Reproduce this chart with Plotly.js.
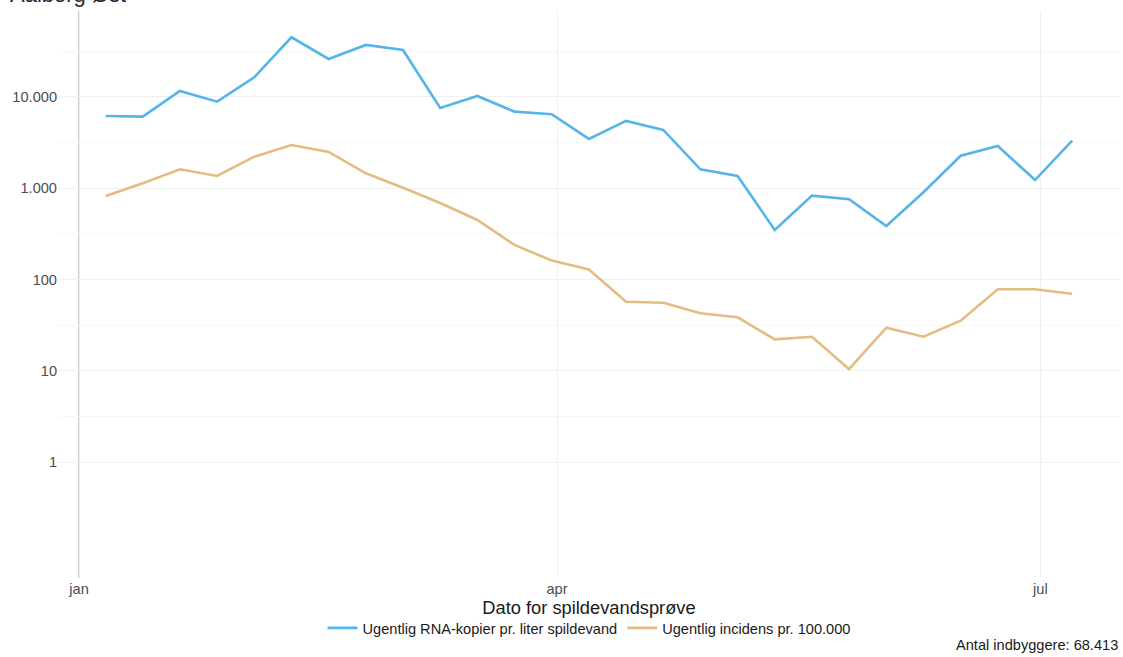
<!DOCTYPE html>
<html>
<head>
<meta charset="utf-8">
<script src="https://cdn.plot.ly/plotly-3.0.1.min.js"></script>
<style>html,body{margin:0;padding:0;background:#fff;}#chart{width:1123px;height:657px;}</style>
</head>
<body>
<div id="chart"></div>
<script>
// ---- data ----
const dates = [
  '2022-01-06','2022-01-13','2022-01-20','2022-01-27','2022-02-03','2022-02-10','2022-02-17',
  '2022-02-24','2022-03-03','2022-03-10','2022-03-17','2022-03-24','2022-03-31','2022-04-07',
  '2022-04-14','2022-04-21','2022-04-28','2022-05-05','2022-05-12','2022-05-19','2022-05-26',
  '2022-06-02','2022-06-09','2022-06-16','2022-06-23','2022-06-30','2022-07-07'
];
const rnaCopies = [
  6190, 6090, 11640, 8880, 16440, 45100, 26070, 37150, 32730, 7580, 10260, 6900, 6460, 3470,
  5460, 4350, 1610, 1360, 349, 829, 757, 386, 903, 2270, 2900, 1230, 3320
];
const incidence = [
  822, 1133, 1614, 1362, 2218, 2978, 2496, 1459, 1014, 689, 449, 239, 161, 129,
  57.1, 55.7, 42.6, 38.5, 22.1, 23.6, 10.4, 29.6, 23.6, 35.4, 78.1, 78.1, 69.9
];
const seriesNames = ['Ugentlig RNA-kopier pr. liter spildevand', 'Ugentlig incidens pr. 100.000'];
const xTickVals = ['2022-01-01', '2022-04-01', '2022-07-01'];
const xTickText = ['jan', 'apr', 'jul'];
const yTickVals = [1, 10, 100, 1000, 10000];
const yTickText = ['1', '10', '100', '1.000', '10.000'];
const chartTitle = 'Aalborg Øst';
const xTitle = 'Dato for spildevandsprøve';
const popNote = 'Antal indbyggere: 68.413';

// ---- styles ----
const FONT = 'Liberation Sans, Arial, Helvetica, sans-serif';
const BLUE = '#56B4E9';
const TAN = '#E3BC82';
const GRID = '#F0F0F0';

const traces = [
  {x: dates, y: rnaCopies, name: seriesNames[0], type: 'scatter', mode: 'lines',
   line: {color: BLUE, width: 2.6}},
  {x: dates, y: incidence, name: seriesNames[1], type: 'scatter', mode: 'lines',
   line: {color: TAN, width: 2.6}}
];

const minorVals = [0.5, 1.5, 2.5, 3.5, 4.5].map(e => Math.pow(10, e));

const layout = {
  width: 1123, height: 657,
  margin: {l: 58, r: 3, t: 11, b: 79, pad: 0},
  paper_bgcolor: '#fff', plot_bgcolor: '#fff',
  font: {family: FONT, color: '#4D4D4D', size: 14.6},
  showlegend: true,
  legend: {orientation: 'h', x: 0.5, xanchor: 'center', y: -0.088, yanchor: 'middle',
           font: {family: FONT, size: 14.6, color: '#1A1A1A'}, bgcolor: 'rgba(0,0,0,0)',
           itemwidth: 30, tracegroupgap: 0},
  xaxis: {
    type: 'date', range: ['2021-12-28 01:00', '2022-07-16'],
    tickmode: 'array', tickvals: xTickVals, ticktext: xTickText,
    ticks: '', ticklen: 0,
    tickfont: {family: FONT, size: 14.6, color: '#4D4D4D'},
    showgrid: true, gridcolor: GRID, gridwidth: 1,
    zeroline: false, showline: false,
    title: {text: xTitle, font: {family: FONT, size: 18.3, color: '#1A1A1A'}, standoff: 0}
  },
  yaxis: {
    type: 'log', range: [-1.271, 4.942],
    tickmode: 'array', tickvals: yTickVals, ticktext: yTickText,
    ticks: '', ticklen: 0,
    tickfont: {family: FONT, size: 14.6, color: '#4D4D4D'},
    showgrid: true, gridcolor: GRID, gridwidth: 1,
    minor: {tickmode: 'array', tickvals: minorVals, showgrid: true, gridcolor: '#F7F7F7', gridwidth: 1, ticks: ''},
    zeroline: false, showline: false
  },
  shapes: [
    {type: 'line', xref: 'x', yref: 'paper', x0: xTickVals[0], x1: xTickVals[0], y0: 0, y1: 1,
     line: {color: '#A8A8A8', width: 1.3}, layer: 'below'}
  ],
  annotations: [
    {text: chartTitle, xref: 'paper', yref: 'paper', x: -0.047, y: 1, xanchor: 'left', yanchor: 'bottom',
     yshift: 2, showarrow: false, font: {family: FONT, size: 22, color: '#262626'}},
    {text: popNote, xref: 'paper', yref: 'paper', x: 1, y: -0.118, xanchor: 'right', yanchor: 'middle',
     showarrow: false, font: {family: FONT, size: 14.6, color: '#1A1A1A'}}
  ]
};

Plotly.newPlot('chart', traces, layout, {displayModeBar: false, staticPlot: true});
</script>
</body>
</html>
